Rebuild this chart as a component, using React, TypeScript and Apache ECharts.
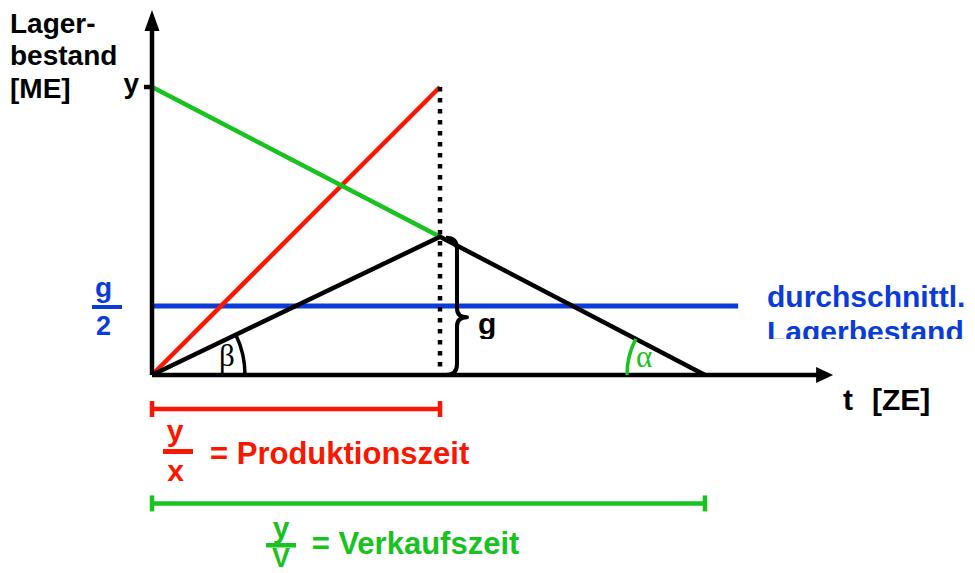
import React, { useEffect, useRef } from "react";
import * as echarts from "echarts";

// ---- values of the model (abstract units) ----
const PRODUCTION_TIME = 10; // y / x
const SALES_TIME = 19.2; // y / V
const LOT_Y = 10; // y
const MAX_STOCK_G = 4.8; // g
const AVG_STOCK = 2.4; // g / 2
const AVG_LINE_END = 20.35;
const X_ARROW_TIP = 23.65;
const Y_ARROW_TIP = 12.67;
const X_AXIS_END = 23.3;
const Y_AXIS_END = 12.3;
const Y_TICK_START = -0.28;
const PROD_BAR_Y = -1.18;
const SALES_BAR_Y = -4.46;

const productionLine = [[0, 0], [PRODUCTION_TIME, LOT_Y]];
const salesLine = [[0, LOT_Y], [PRODUCTION_TIME, MAX_STOCK_G]];
const stockLine = [[0, 0], [PRODUCTION_TIME, MAX_STOCK_G], [SALES_TIME, 0]];
const avgLine = [[0, AVG_STOCK], [AVG_LINE_END, AVG_STOCK]];
const dottedLine = [[PRODUCTION_TIME, LOT_Y], [PRODUCTION_TIME, 0]];
const prodInterval = [[0, PROD_BAR_Y], [PRODUCTION_TIME, PROD_BAR_Y]];
const salesInterval = [[0, SALES_BAR_Y], [SALES_TIME, SALES_BAR_Y]];
const xAxisLine = [[0, 0], [X_AXIS_END, 0]];
const yAxisLine = [[0, 0], [0, Y_AXIS_END]];
const yTickLine = [[Y_TICK_START, LOT_Y], [0, LOT_Y]];

const RED = "#fb1600";
const GREEN = "#18c21f";
const BLUE = "#0a3bdb";
const BLACK = "#000000";
const SANS = '"Liberation Sans", Arial, Helvetica, sans-serif';
const SERIF = '"Liberation Serif", "Times New Roman", serif';

function lineSeries(data: number[][], color: string, width: number, extra: any = {}) {
  return {
    type: "line",
    data,
    symbol: "none",
    silent: true,
    animation: false,
    lineStyle: { color, width, cap: "butt", join: "round", ...(extra.lineStyle || {}) },
    z: extra.z ?? 3,
    ...(extra.more || {}),
  };
}

function txt(text: string, x: number, y: number, color: string, size: number, align = "left", family = SANS, weight = "bold") {
  return {
    type: "text",
    z: 100,
    silent: true,
    style: {
      text,
      x,
      y,
      fill: color,
      font: `${weight} ${size}px ${family}`,
      align,
      verticalAlign: "middle",
      textAlign: align,
      textVerticalAlign: "middle",
    },
  };
}

function bar(x: number, y: number, w: number, h: number, color: string) {
  return { type: "rect", z: 100, silent: true, shape: { x, y, width: w, height: h }, style: { fill: color } };
}

export default function App() {
  const ref = useRef<HTMLDivElement>(null);
  useEffect(() => {
    if (!ref.current) return;
    const chart = echarts.init(ref.current, null, { renderer: "svg" });
    const option: any = {
      animation: false,
      backgroundColor: "#ffffff",
      grid: { left: 8, right: 16.6, top: 0.6, bottom: 10.8, containLabel: false },
      xAxis: { type: "value", min: -5, max: 28, show: false },
      yAxis: { type: "value", min: -6.5, max: 13, show: false },
      series: [
        lineSeries(avgLine, BLUE, 5, { z: 2 }),
        lineSeries(productionLine, RED, 4.5),
        lineSeries(salesLine, GREEN, 4.5),
        lineSeries(dottedLine, BLACK, 4.5, { lineStyle: { type: [4.5, 6.5] }, z: 4 }),
        lineSeries(stockLine, BLACK, 4.5, { z: 4 }),
        lineSeries(xAxisLine, BLACK, 4.5, { z: 5 }),
        lineSeries(yAxisLine, BLACK, 4.5, { z: 5 }),
        lineSeries(yTickLine, BLACK, 4.5, { z: 5 }),
        lineSeries(prodInterval, RED, 4.5, {
          more: { symbol: "rect", symbolSize: [4.5, 16], showSymbol: true, itemStyle: { color: RED } },
        }),
        lineSeries(salesInterval, GREEN, 4.5, {
          more: { symbol: "rect", symbolSize: [4.5, 16], showSymbol: true, itemStyle: { color: GREEN } },
        }),
        {
          type: "custom",
          coordinateSystem: "cartesian2d",
          data: [[0, 0]],
          silent: true,
          z: 6,
          renderItem: (_p: any, api: any) => {
            const o = api.coord([0, 0]);
            const apex = api.coord([PRODUCTION_TIME, MAX_STOCK_G]);
            const base = api.coord([PRODUCTION_TIME, 0]);
            const end = api.coord([SALES_TIME, 0]);
            const yTip = api.coord([0, Y_ARROW_TIP]);
            const xTip = api.coord([X_ARROW_TIP, 0]);
            const betaAng = Math.atan2(apex[1] - o[1], apex[0] - o[0]);
            const alphaAng = Math.atan2(apex[1] - end[1], apex[0] - end[0]);
            const xL = apex[0] + 6;
            const xM = xL + 11;
            const xT = xM + 10;
            const yTop = apex[1] + 1;
            const yBot = base[1];
            const yMid = yTop + (yBot - yTop) * 0.58;
            const brace =
              `M${xL},${yTop} Q${xM},${yTop} ${xM},${yTop + 11} L${xM},${yMid - 9} ` +
              `Q${xM},${yMid} ${xT},${yMid} Q${xM},${yMid} ${xM},${yMid + 9} ` +
              `L${xM},${yBot - 11} Q${xM},${yBot} ${xL},${yBot}`;
            return {
              type: "group",
              children: [
                {
                  type: "polygon",
                  shape: { points: [[yTip[0], yTip[1]], [yTip[0] - 7.5, yTip[1] + 21], [yTip[0] + 7.5, yTip[1] + 21]] },
                  style: { fill: BLACK },
                },
                {
                  type: "polygon",
                  shape: { points: [[xTip[0], xTip[1]], [xTip[0] - 17, xTip[1] - 8], [xTip[0] - 17, xTip[1] + 8]] },
                  style: { fill: BLACK },
                },
                {
                  type: "path",
                  shape: { pathData: brace },
                  style: { fill: "none", stroke: BLACK, lineWidth: 4, lineJoin: "round" },
                },
                {
                  type: "arc",
                  shape: { cx: o[0], cy: o[1], r: 93, startAngle: betaAng, endAngle: 0, clockwise: true },
                  style: { fill: "none", stroke: BLACK, lineWidth: 3.5 },
                },
                {
                  type: "arc",
                  shape: { cx: end[0], cy: end[1], r: 78, startAngle: Math.PI, endAngle: 2 * Math.PI + alphaAng, clockwise: true },
                  style: { fill: "none", stroke: GREEN, lineWidth: 3.5 },
                },
              ],
            };
          },
        },
      ],
      graphic: [
        txt("Lager-", 10, 23.5, BLACK, 28),
        txt("bestand", 10, 55, BLACK, 28),
        txt("[ME]", 10, 88.5, BLACK, 28),
        txt("y", 139, 83, BLACK, 28, "right"),
        txt("g", 103.5, 287.5, BLUE, 28, "center"),
        bar(92, 305, 30, 4, BLUE),
        txt("2", 103.5, 325.5, BLUE, 27, "center"),
        txt("durchschnittl.", 767, 296, BLUE, 30),
        txt("Lagerbestand", 767, 331, BLUE, 30),
        txt("g", 478, 323.5, BLACK, 30),
        bar(760, 339, 215, 10, "#ffffff"),
        bar(474, 339, 26, 8, "#ffffff"),
        txt("β", 227, 355, BLACK, 31, "center", SERIF, "normal"),
        txt("α", 644, 356, GREEN, 31, "center", SERIF, "normal"),
        txt("t", 843, 399.6, BLACK, 30),
        txt("[ZE]", 872, 399.6, BLACK, 30),
        txt("y", 175, 430, RED, 30, "center"),
        bar(163, 449, 30, 5, RED),
        txt("x", 175.5, 470.6, RED, 30, "center"),
        txt("= Produktionszeit", 210, 453, RED, 31),
        txt("y", 281, 527, GREEN, 30, "center"),
        bar(266, 543, 30, 4.5, GREEN),
        txt("V", 281, 558, GREEN, 27, "center"),
        txt("= Verkaufszeit", 311.7, 543, GREEN, 31),
      ],
    };
    chart.setOption(option);
    return () => chart.dispose();
  }, []);
  return (
    <div
      ref={ref}
      style={{ position: "absolute", left: 0, top: 0, width: 975, height: 573, background: "#fff" }}
    />
  );
}
